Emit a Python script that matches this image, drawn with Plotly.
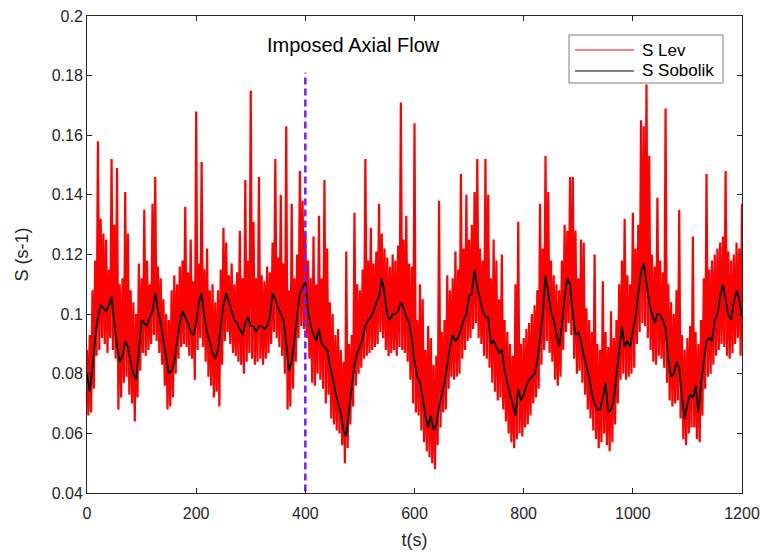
import plotly.graph_objects as go

# time step of the digitised samples (s)
STEP = 5.0

# smoothed Sobolik signal, one value every 5 s from t=0 to t=1200
s_sobolik = [
    0.080, 0.074, 0.082, 0.092, 0.099, 0.103, 0.102, 0.101, 0.103, 0.106,
    0.097, 0.089, 0.084, 0.086, 0.091, 0.089, 0.084, 0.080, 0.078, 0.088,
    0.098, 0.097, 0.096, 0.099, 0.101, 0.107, 0.101, 0.097, 0.091, 0.085,
    0.080, 0.081, 0.084, 0.091, 0.097, 0.101, 0.099, 0.097, 0.094, 0.093,
    0.097, 0.104, 0.107, 0.099, 0.094, 0.090, 0.087, 0.085, 0.088, 0.096,
    0.103, 0.107, 0.104, 0.101, 0.098, 0.097, 0.095, 0.093, 0.097, 0.099,
    0.096, 0.096, 0.094, 0.096, 0.096, 0.095, 0.096, 0.099, 0.107, 0.105,
    0.102, 0.100, 0.098, 0.090, 0.081, 0.084, 0.092, 0.100, 0.107, 0.109,
    0.111, 0.101, 0.096, 0.093, 0.091, 0.095, 0.090, 0.089, 0.088, 0.083,
    0.078, 0.074, 0.070, 0.067, 0.061, 0.059, 0.068, 0.076, 0.083, 0.087,
    0.089, 0.092, 0.096, 0.098, 0.099, 0.101, 0.104, 0.106, 0.112, 0.107,
    0.100, 0.098, 0.100, 0.100, 0.101, 0.104, 0.102, 0.099, 0.097, 0.092,
    0.084, 0.079, 0.077, 0.072, 0.066, 0.062, 0.066, 0.061, 0.063, 0.069,
    0.073, 0.077, 0.083, 0.089, 0.093, 0.091, 0.092, 0.095, 0.098, 0.100,
    0.106, 0.107, 0.115, 0.109, 0.105, 0.101, 0.099, 0.099, 0.090, 0.091,
    0.089, 0.087, 0.088, 0.081, 0.077, 0.073, 0.069, 0.066, 0.075, 0.071,
    0.073, 0.076, 0.078, 0.079, 0.080, 0.084, 0.092, 0.100, 0.113, 0.107,
    0.101, 0.098, 0.094, 0.089, 0.096, 0.106, 0.112, 0.110, 0.100, 0.093,
    0.094, 0.091, 0.086, 0.082, 0.079, 0.073, 0.070, 0.068, 0.068, 0.072,
    0.077, 0.067, 0.068, 0.071, 0.080, 0.087, 0.096, 0.089, 0.091, 0.089,
    0.094, 0.099, 0.107, 0.114, 0.117, 0.111, 0.104, 0.100, 0.097, 0.100,
    0.100, 0.098, 0.095, 0.085, 0.079, 0.080, 0.084, 0.082, 0.072, 0.065,
    0.070, 0.073, 0.072, 0.076, 0.067, 0.077, 0.085, 0.091, 0.092, 0.091,
    0.098, 0.100, 0.106, 0.110, 0.105, 0.100, 0.098, 0.104, 0.108, 0.105,
    0.099,
]

# Lev signal: upper excursions at t = 0, 5, ..., 1200
s_lev_high = [
    0.088, 0.093, 0.108, 0.118, 0.158, 0.132, 0.127, 0.125, 0.115, 0.152,
    0.130, 0.149, 0.110, 0.112, 0.141, 0.127, 0.108, 0.104, 0.100, 0.117,
    0.112, 0.135, 0.118, 0.110, 0.137, 0.146, 0.116, 0.112, 0.105, 0.100,
    0.098, 0.108, 0.113, 0.110, 0.116, 0.118, 0.136, 0.114, 0.125, 0.111,
    0.168, 0.117, 0.151, 0.115, 0.122, 0.108, 0.110, 0.104, 0.108, 0.115,
    0.129, 0.124, 0.113, 0.117, 0.110, 0.114, 0.128, 0.112, 0.145, 0.118,
    0.175, 0.131, 0.112, 0.146, 0.113, 0.111, 0.116, 0.114, 0.124, 0.152,
    0.119, 0.140, 0.117, 0.163, 0.108, 0.137, 0.112, 0.120, 0.148, 0.138,
    0.128, 0.118, 0.112, 0.126, 0.110, 0.133, 0.112, 0.145, 0.122, 0.104,
    0.100, 0.093, 0.095, 0.088, 0.084, 0.121, 0.090, 0.093, 0.134, 0.110,
    0.108, 0.115, 0.152, 0.118, 0.129, 0.117, 0.121, 0.137, 0.127, 0.122,
    0.119, 0.116, 0.120, 0.118, 0.123, 0.171, 0.125, 0.133, 0.117, 0.116,
    0.164, 0.098, 0.110, 0.105, 0.088, 0.096, 0.092, 0.083, 0.086, 0.138,
    0.094, 0.098, 0.113, 0.108, 0.112, 0.121, 0.115, 0.147, 0.122, 0.140,
    0.125, 0.130, 0.141, 0.152, 0.122, 0.118, 0.152, 0.140, 0.112, 0.125,
    0.118, 0.105, 0.120, 0.098, 0.094, 0.090, 0.086, 0.110, 0.131, 0.090,
    0.092, 0.095, 0.097, 0.100, 0.103, 0.108, 0.137, 0.122, 0.153, 0.141,
    0.118, 0.113, 0.110, 0.108, 0.118, 0.130, 0.128, 0.146, 0.146, 0.128,
    0.112, 0.125, 0.124, 0.102, 0.098, 0.094, 0.120, 0.090, 0.088, 0.111,
    0.094, 0.089, 0.101, 0.092, 0.098, 0.110, 0.118, 0.132, 0.113, 0.110,
    0.134, 0.122, 0.130, 0.165, 0.163, 0.177, 0.153, 0.120, 0.116, 0.139,
    0.118, 0.114, 0.169, 0.110, 0.104, 0.100, 0.108, 0.135, 0.093, 0.088,
    0.092, 0.096, 0.126, 0.094, 0.090, 0.098, 0.112, 0.147, 0.115, 0.118,
    0.120, 0.122, 0.124, 0.126, 0.148, 0.121, 0.118, 0.120, 0.124, 0.122,
    0.137,
]

# Lev signal: lower excursions at t = 2.5, 7.5, ..., 1197.5
s_lev_low = [
    0.066, 0.067, 0.075, 0.086, 0.088, 0.092, 0.090, 0.087, 0.092, 0.088,
    0.085, 0.068, 0.072, 0.077, 0.079, 0.073, 0.070, 0.064, 0.072, 0.081,
    0.087, 0.086, 0.088, 0.090, 0.093, 0.091, 0.087, 0.083, 0.076, 0.068,
    0.069, 0.072, 0.080, 0.085, 0.089, 0.090, 0.089, 0.086, 0.085, 0.078,
    0.088, 0.092, 0.089, 0.084, 0.079, 0.076, 0.072, 0.074, 0.069, 0.083,
    0.091, 0.094, 0.090, 0.087, 0.086, 0.084, 0.083, 0.080, 0.084, 0.087,
    0.085, 0.083, 0.084, 0.085, 0.083, 0.085, 0.087, 0.090, 0.094, 0.092,
    0.089, 0.086, 0.080, 0.068, 0.069, 0.075, 0.084, 0.092, 0.096, 0.095,
    0.092, 0.085, 0.077, 0.076, 0.080, 0.078, 0.075, 0.070, 0.073, 0.065,
    0.063, 0.061, 0.060, 0.056, 0.050, 0.055, 0.063, 0.069, 0.076, 0.080,
    0.082, 0.085, 0.086, 0.087, 0.088, 0.089, 0.090, 0.094, 0.092, 0.088,
    0.086, 0.087, 0.088, 0.086, 0.089, 0.088, 0.087, 0.084, 0.078, 0.070,
    0.067, 0.066, 0.061, 0.057, 0.054, 0.052, 0.050, 0.048, 0.056, 0.062,
    0.067, 0.068, 0.075, 0.079, 0.078, 0.079, 0.080, 0.085, 0.088, 0.091,
    0.092, 0.095, 0.097, 0.092, 0.090, 0.086, 0.085, 0.082, 0.077, 0.074,
    0.071, 0.072, 0.068, 0.064, 0.060, 0.057, 0.055, 0.058, 0.060, 0.059,
    0.062, 0.063, 0.066, 0.070, 0.072, 0.075, 0.083, 0.088, 0.091, 0.087,
    0.084, 0.078, 0.076, 0.079, 0.088, 0.094, 0.097, 0.093, 0.085, 0.080,
    0.081, 0.077, 0.073, 0.068, 0.065, 0.061, 0.058, 0.055, 0.057, 0.060,
    0.056, 0.054, 0.057, 0.063, 0.070, 0.078, 0.080, 0.078, 0.079, 0.080,
    0.082, 0.090, 0.094, 0.097, 0.096, 0.092, 0.088, 0.084, 0.083, 0.086,
    0.085, 0.082, 0.077, 0.071, 0.069, 0.070, 0.071, 0.065, 0.058, 0.056,
    0.060, 0.062, 0.062, 0.058, 0.057, 0.066, 0.075, 0.079, 0.080, 0.083,
    0.086, 0.088, 0.090, 0.089, 0.086, 0.085, 0.087, 0.090, 0.092, 0.086,
]

x_ticks = [0, 200, 400, 600, 800, 1000, 1200]
y_ticks = [0.04, 0.06, 0.08, 0.1, 0.12, 0.14, 0.16, 0.18, 0.2]
y_tick_text = ["0.04", "0.06", "0.08", "0.1", "0.12", "0.14", "0.16", "0.18", "0.2"]

flow_start = 400
flow_label = "Imposed Axial Flow"
series_names = ["S Lev", "S Sobolik"]
series_colors = ["#ff0000", "#000000"]

t_sobolik = [i * STEP for i in range(len(s_sobolik))]
t_high = [i * STEP for i in range(len(s_lev_high))]
t_low = [(i + 0.5) * STEP for i in range(len(s_lev_low))]

# interleave the high and low excursions into one red trace
t_lev, s_lev = [], []
for i, v in enumerate(s_lev_high):
    t_lev.append(t_high[i])
    s_lev.append(v)
    if i < len(s_lev_low):
        t_lev.append(t_low[i])
        s_lev.append(s_lev_low[i])

FONT = "Arial, Liberation Sans, Helvetica, sans-serif"
AXIS_COLOR = "#262626"

fig = go.Figure()
fig.add_trace(go.Scatter(
    x=t_lev, y=s_lev, mode="lines", name=series_names[0],
    line=dict(color=series_colors[0], width=2.2),
))
fig.add_trace(go.Scatter(
    x=t_sobolik, y=s_sobolik, mode="lines", name=series_names[1],
    line=dict(color=series_colors[1], width=1.8),
))
fig.add_trace(go.Scatter(
    x=[flow_start, flow_start], y=[0.0405, 0.181], mode="lines",
    showlegend=False, hoverinfo="skip",
    line=dict(color="#7a1cff", width=2.5, dash="7px,4px"),
))

fig.add_annotation(
    x=488, y=0.1903, xref="x", yref="y", text=flow_label, showarrow=False,
    font=dict(family=FONT, size=20, color="#000000"),
)

# MATLAB-style legend box drawn by hand (top right)
fig.add_shape(
    type="rect", xref="paper", yref="paper",
    x0=0.7359, x1=0.9710, y0=0.8595, y1=0.9602,
    line=dict(color="#7f7f7f", width=1), fillcolor="#ffffff", layer="above",
)
for name, color, ly in zip(series_names, series_colors, [0.9287, 0.8847]):
    fig.add_shape(
        type="line", xref="paper", yref="paper",
        x0=0.745, x1=0.835, y0=ly, y1=ly,
        line=dict(color=color, width=1), layer="above",
    )
    fig.add_annotation(
        x=0.8443, y=ly, xref="paper", yref="paper",
        xanchor="left", yanchor="middle",
        text=name, showarrow=False,
        font=dict(family=FONT, size=17, color="#000000"),
    )

axis_common = dict(
    showline=True, linecolor=AXIS_COLOR, linewidth=1, mirror="ticks",
    ticks="inside", ticklen=5, tickcolor=AXIS_COLOR, showgrid=False,
    zeroline=False, automargin=False,
    tickfont=dict(family=FONT, size=16, color=AXIS_COLOR),
)

fig.update_xaxes(
    range=[0, 1200], tickvals=x_ticks, ticklabelstandoff=6,
    title=dict(text="t(s)", font=dict(family=FONT, size=18, color=AXIS_COLOR), standoff=12),
    **axis_common,
)
fig.update_yaxes(
    range=[0.04, 0.2], tickvals=y_ticks, ticktext=y_tick_text,
    title=dict(text="S (s-1)", font=dict(family=FONT, size=18, color=AXIS_COLOR), standoff=18),
    **axis_common,
)

fig.update_layout(
    width=766, height=552,
    margin=dict(l=87, r=24, t=16, b=59),
    paper_bgcolor="#ffffff", plot_bgcolor="#ffffff",
    font=dict(family=FONT, color=AXIS_COLOR),
    showlegend=False,
)

# drop the default page margin so the figure sits at the window origin
fig.write_html(
    "out.html",
    config={"displayModeBar": False},
    post_script="document.body.style.margin='0';",
)
